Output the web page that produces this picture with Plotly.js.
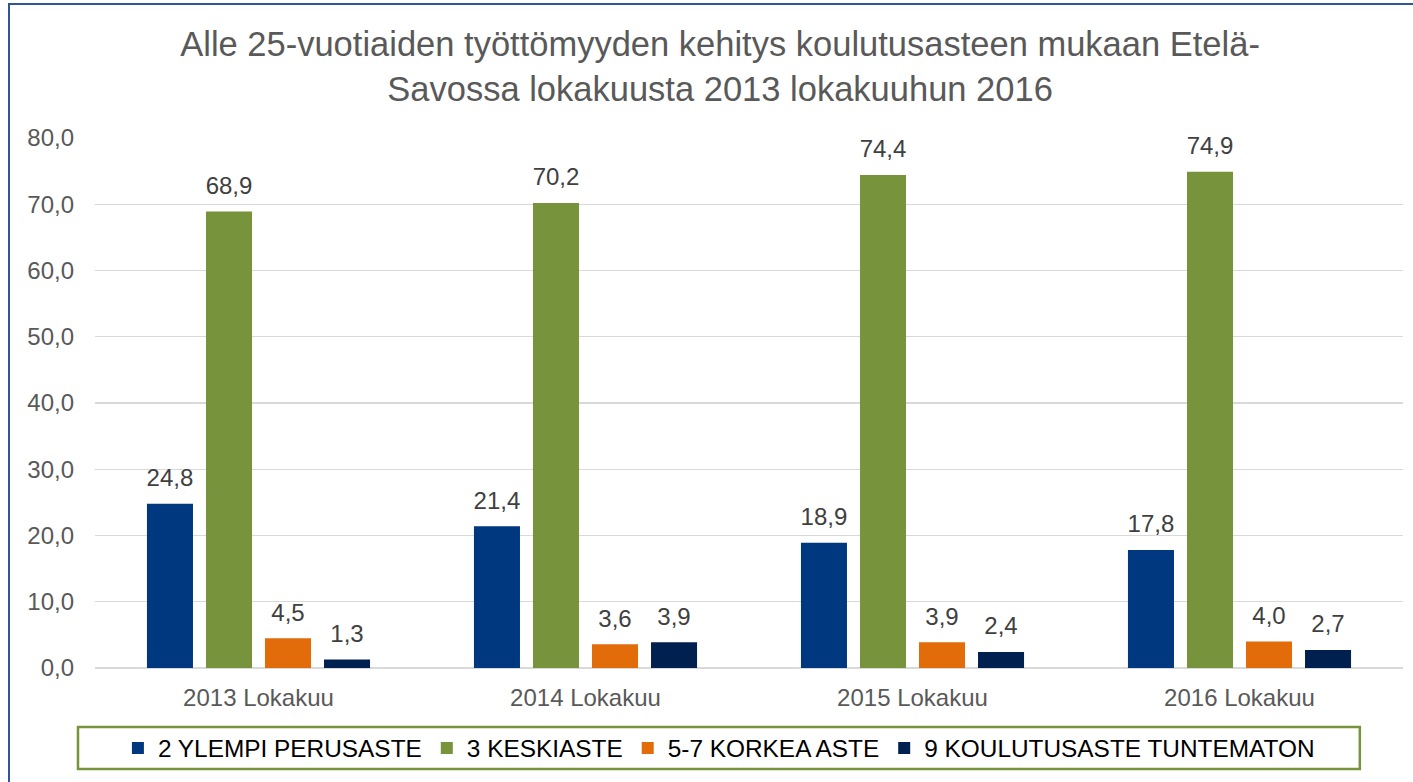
<!DOCTYPE html>
<html>
<head>
<meta charset="utf-8">
<script src="https://cdn.plot.ly/plotly-3.0.1.min.js"></script>
<style>
  html, body { margin: 0; padding: 0; background: #ffffff; }
  #wrap { position: relative; width: 1413px; height: 782px; overflow: hidden; }
  #chart { position: absolute; left: 0; top: 0; width: 1413px; height: 782px; }
  #frame { position: absolute; left: 8px; top: 3px; width: 1420px; height: 800px;
           border-left: 2px solid #2F5597; border-top: 2px solid #2F5597; pointer-events: none; }
</style>
</head>
<body>
<div id="wrap">
  <div id="chart"></div>
  <div id="frame"></div>
</div>
<script>
const categories = ["2013 Lokakuu", "2014 Lokakuu", "2015 Lokakuu", "2016 Lokakuu"];
const seriesNames = ["2 YLEMPI PERUSASTE", "3 KESKIASTE", "5-7 KORKEA ASTE", "9 KOULUTUSASTE TUNTEMATON"];
const ylempiPerusaste = [24.8, 21.4, 18.9, 17.8];
const keskiaste = [68.9, 70.2, 74.4, 74.9];
const korkeaAste = [4.5, 3.6, 3.9, 4.0];
const tuntematon = [1.3, 3.9, 2.4, 2.7];
const seriesValues = [ylempiPerusaste, keskiaste, korkeaAste, tuntematon];
const seriesColors = ["#00387F", "#77933C", "#E26B0A", "#002050"];
const yTickValues = [0, 10, 20, 30, 40, 50, 60, 70, 80];

const FONT = "Liberation Sans, Arial, sans-serif";
const GAP = 0.278;

const barTraces = seriesNames.map((name, i) => ({
  type: "bar",
  name: name,
  x: categories,
  y: seriesValues[i],
  offsetgroup: "g" + i,
  marker: { color: seriesColors[i], line: { width: 0 } },
  hoverinfo: "skip"
}));

const labelTraces = seriesNames.map((name, i) => ({
  type: "scatter",
  mode: "markers+text",
  name: name + " labels",
  showlegend: false,
  x: categories,
  y: seriesValues[i],
  offsetgroup: "g" + i,
  marker: { size: 17, opacity: 0, color: seriesColors[i] },
  text: seriesValues[i].map(v => v.toFixed(1).replace(".", ",")),
  textposition: "top center",
  textfont: { family: FONT, size: 24, color: "#404040" },
  cliponaxis: false,
  hoverinfo: "skip"
}));

const layout = {
  width: 1413,
  height: 782,
  margin: { l: 95, r: 10, t: 138, b: 114 },
  paper_bgcolor: "#ffffff",
  plot_bgcolor: "#ffffff",
  separators: ",.",
  barmode: "group",
  bargap: GAP,
  bargroupgap: 0.22,
  scattermode: "group",
  scattergap: GAP,
  title: {
    text: "Alle 25-vuotiaiden työttömyyden kehitys koulutusasteen mukaan Etelä-<br>Savossa lokakuusta 2013 lokakuuhun 2016",
    font: { family: FONT, size: 34.5, color: "#595959" },
    x: 0.5096, xref: "container", xanchor: "center",
    y: 0.928, yref: "container", yanchor: "middle"
  },
  xaxis: {
    type: "category",
    showgrid: false,
    showline: false,
    zeroline: false,
    ticks: "",
    ticklabelstandoff: 13,
    tickfont: { family: FONT, size: 24, color: "#595959" }
  },
  yaxis: {
    range: [0, 80],
    tickvals: yTickValues,
    tickformat: ".1f",
    showgrid: true,
    gridcolor: "#D9D9D9",
    gridwidth: 1.3,
    zeroline: true,
    zerolinecolor: "#D9D9D9",
    zerolinewidth: 1.3,
    showline: false,
    ticks: "",
    ticklabelstandoff: 20,
    tickfont: { family: FONT, size: 24, color: "#595959" }
  },
  showlegend: true,
  legend: {
    orientation: "h",
    x: 0.477, xanchor: "center",
    y: -0.151, yanchor: "middle",
    bgcolor: "rgba(0,0,0,0)",
    borderwidth: 0,
    font: { family: FONT, size: 24.4, color: "#000000" },
    itemclick: false,
    itemdoubleclick: false
  },
  shapes: [{
    type: "rect", xref: "paper", yref: "paper",
    x0: -0.013, x1: 0.967, y0: -0.1906, y1: -0.1113,
    line: { color: "#77933C", width: 2.5 },
    fillcolor: "rgba(0,0,0,0)",
    layer: "below"
  }]
};

Plotly.newPlot("chart", barTraces.concat(labelTraces), layout, { displayModeBar: false, staticPlot: true });
</script>
</body>
</html>
